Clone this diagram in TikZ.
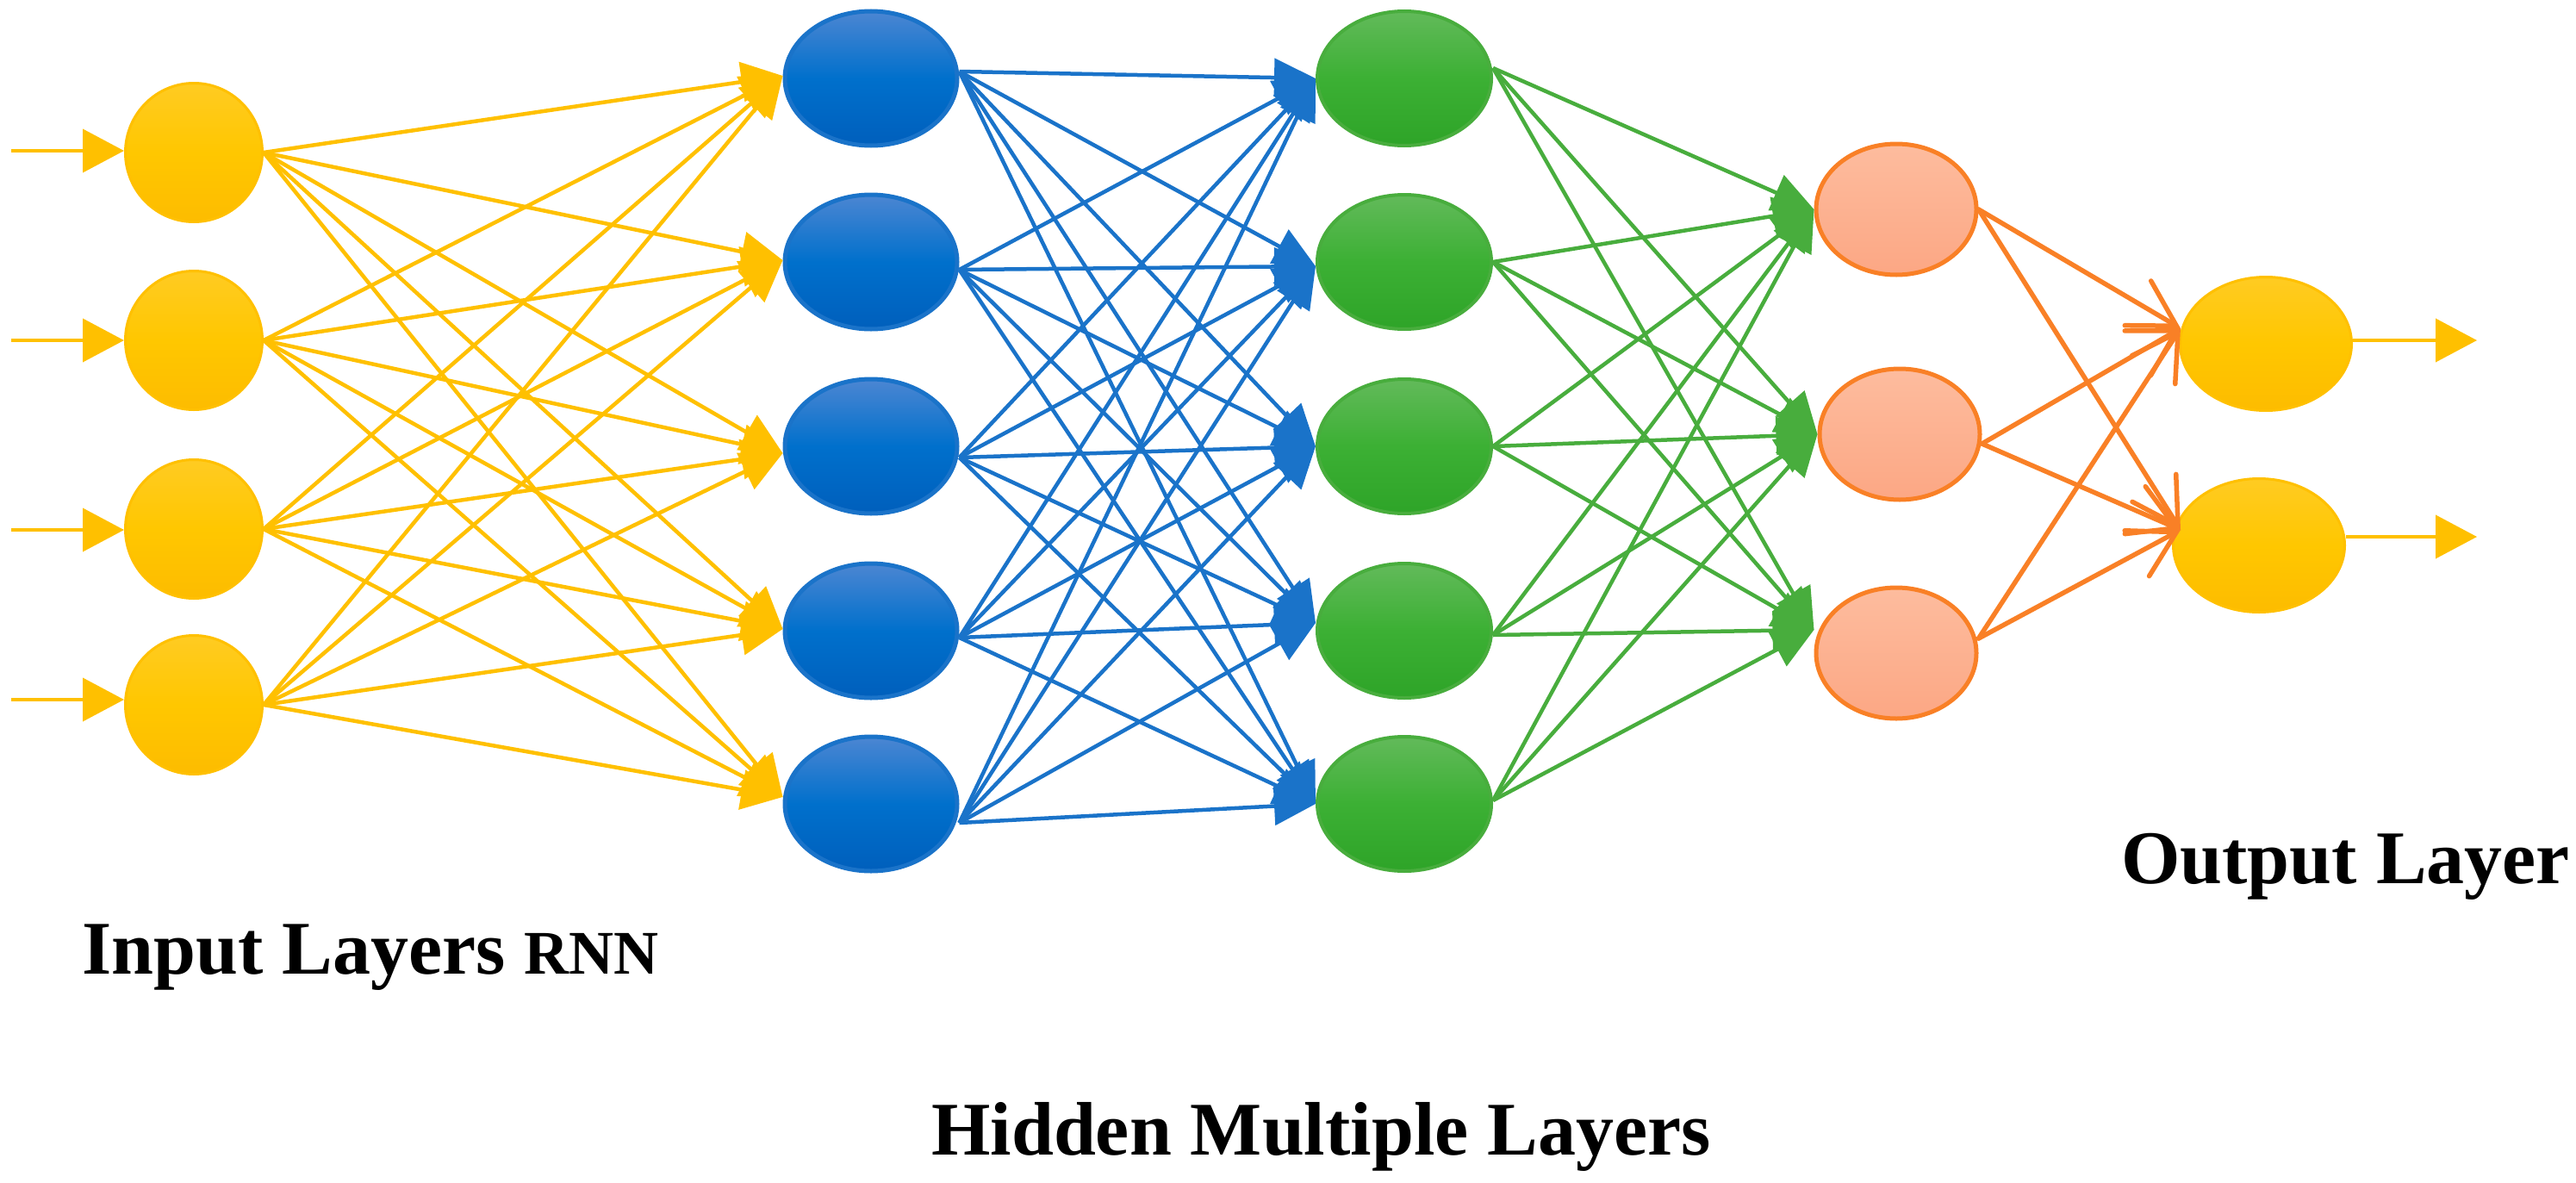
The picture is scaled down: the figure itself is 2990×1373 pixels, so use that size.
\documentclass[tikz,border=0pt]{standalone}
\usepackage{fontspec}
\setmainfont{Liberation Serif}
\usetikzlibrary{shapes.geometric,arrows.meta}
\definecolor{yelL}{HTML}{FFC000}
\definecolor{yelT}{HTML}{FFCB22}
\definecolor{yelM}{HTML}{FFC700}
\definecolor{yelB}{HTML}{FDBC00}
\definecolor{bluL}{HTML}{1A73C9}
\definecolor{bluT}{HTML}{4C86D2}
\definecolor{bluM}{HTML}{0070CC}
\definecolor{bluB}{HTML}{005FBC}
\definecolor{grnL}{HTML}{48AD3D}
\definecolor{grnT}{HTML}{62BA5A}
\definecolor{grnM}{HTML}{3CB034}
\definecolor{grnB}{HTML}{2EA428}
\definecolor{orgL}{HTML}{F98026}
\definecolor{orgT}{HTML}{FDBC9E}
\definecolor{orgB}{HTML}{FCA784}
\begin{document}
\begin{tikzpicture}[x=1pt,y=-1pt,
  yelnode/.style={ellipse, draw=yelL, line width=3pt, top color=yelT, bottom color=yelB, middle color=yelM, inner sep=0pt},
  blunode/.style={ellipse, draw=bluL, line width=5pt, top color=bluT, bottom color=bluB, middle color=bluM, inner sep=0pt, minimum width=200pt, minimum height=156pt},
  grnnode/.style={ellipse, draw=grnL, line width=4pt, top color=grnT, bottom color=grnB, middle color=grnM, inner sep=0pt, minimum width=202pt, minimum height=156pt},
  orgnode/.style={ellipse, draw=orgL, line width=5pt, top color=orgT, bottom color=orgB, inner sep=0pt, minimum width=186pt, minimum height=152pt},
  yline/.style={draw=yelL, line width=4.5pt, -{Triangle[length=48pt,width=46pt]}},
  bline/.style={draw=bluL, line width=4.5pt, -{Triangle[length=48pt,width=44pt]}},
  gline/.style={draw=grnL, line width=4.5pt, -{Triangle[length=48pt,width=44pt]}},
  oline/.style={draw=orgL, line width=5.5pt, line cap=round, -{Straight Barb[length=52pt,width=60pt,line cap=round]}},
  inarrow/.style={draw=yelL, line width=4pt, -{Triangle[length=48pt,width=50pt]}},
  lbl/.style={inner sep=0pt, anchor=base west, font=\fontsize{88}{100}\selectfont\bfseries}
]
\useasboundingbox (0,0) rectangle (2990,1373);

% input layer
\node[yelnode, minimum width=159pt, minimum height=161pt] (i1) at (225,177) {};
\node[yelnode, minimum width=159pt, minimum height=161pt] (i2) at (225,395) {};
\node[yelnode, minimum width=159pt, minimum height=161pt] (i3) at (225,614) {};
\node[yelnode, minimum width=159pt, minimum height=161pt] (i4) at (225,818) {};

% hidden layer 1 (blue)
\node[blunode] (b1) at (1011,91) {};
\node[blunode] (b2) at (1011,304) {};
\node[blunode] (b3) at (1011,518) {};
\node[blunode] (b4) at (1011,732) {};
\node[blunode] (b5) at (1011,933) {};

% hidden layer 2 (green)
\node[grnnode] (g1) at (1630,91) {};
\node[grnnode] (g2) at (1630,304) {};
\node[grnnode] (g3) at (1630,518) {};
\node[grnnode] (g4) at (1630,732) {};
\node[grnnode] (g5) at (1630,933) {};

% hidden layer 3 (orange)
\node[orgnode] (o1) at (2201,243) {};
\node[orgnode] (o2) at (2205,504) {};
\node[orgnode] (o3) at (2201,758) {};

% output layer
\node[yelnode, minimum width=199pt, minimum height=155pt] (y1) at (2630,399) {};
\node[yelnode, minimum width=199pt, minimum height=155pt] (y2) at (2622,633) {};

% anchor points
\coordinate (bt1) at ([yshift=3pt]b1.west);
\coordinate (bt2) at ([yshift=2pt]b2.west);
\coordinate (bt3) at ([yshift=-8pt]b3.west);
\coordinate (bt4) at ([yshift=2pt]b4.west);
\coordinate (bt5) at ([yshift=8pt]b5.west);
\coordinate (bs1) at ([yshift=8pt]b1.east);
\coordinate (bs2) at ([yshift=-9pt]b2.east);
\coordinate (bs3) at ([yshift=-13pt]b3.east);
\coordinate (bs4) at ([yshift=-8pt]b4.east);
\coordinate (bs5) at ([yshift=-22pt]b5.east);
\coordinate (gt1) at (g1.west);
\coordinate (gt2) at ([yshift=-5pt]g2.west);
\coordinate (gt3) at (g3.west);
\coordinate (gt4) at ([yshift=9pt]g4.west);
\coordinate (gt5) at (g5.west);
\coordinate (gs1) at ([yshift=12pt]g1.east);
\coordinate (gs2) at (g2.east);
\coordinate (gs3) at (g3.east);
\coordinate (gs4) at ([yshift=-5pt]g4.east);
\coordinate (gs5) at ([yshift=4pt]g5.east);
\coordinate (ot1) at (o1.west);
\coordinate (ot2) at (o2.west);
\coordinate (ot3) at ([yshift=27pt]o3.west);
\coordinate (os1) at (o1.east);
\coordinate (os2) at ([yshift=-11pt]o2.east);
\coordinate (os3) at ([yshift=17pt]o3.east);
\coordinate (yt1) at ([shift={(2pt,18pt)}]y1.west);
\coordinate (yt2) at ([shift={(10pt,18pt)}]y2.west);
\coordinate (ys1) at ([yshift=4pt]y1.east);
\coordinate (ys2) at ([yshift=10pt]y2.east);

% free ends
\coordinate (x1) at (13,175);
\coordinate (x2) at (13,395);
\coordinate (x3) at (13,615);
\coordinate (x4) at (13,812);
\coordinate (z1) at (2875,395);
\coordinate (z2) at (2875,623);

% input arrows
\foreach \k in {1,...,4} \draw[inarrow] (x\k) -- (x\k -| i\k.west);

% input -> blue
\foreach \s in {1,...,4} \foreach \t in {1,...,5} \draw[yline] (i\s.east) -- (bt\t);

% blue -> green
\foreach \s in {1,...,5} \foreach \t in {1,...,5} \draw[bline] (bs\s) -- (gt\t);

% green -> orange
\foreach \s in {1,...,5} \foreach \t in {1,...,3} \draw[gline] (gs\s) -- (ot\t);

% orange -> output
\foreach \s in {1,...,3} \foreach \t in {1,2} \draw[oline] (os\s) -- (yt\t);

% output arrows
\draw[inarrow] (ys1) -- (z1);
\draw[inarrow] (ys2) -- (z2);

% labels
\node[lbl] (lin) at (95,1130) {Input Layers {\fontsize{72}{80}\selectfont RNN}};
\node[lbl] (lout) at (2462,1025) {Output Layer};
\node[lbl] (lhid) at (1081,1340) {Hidden Multiple Layers};
\end{tikzpicture}
\end{document}
